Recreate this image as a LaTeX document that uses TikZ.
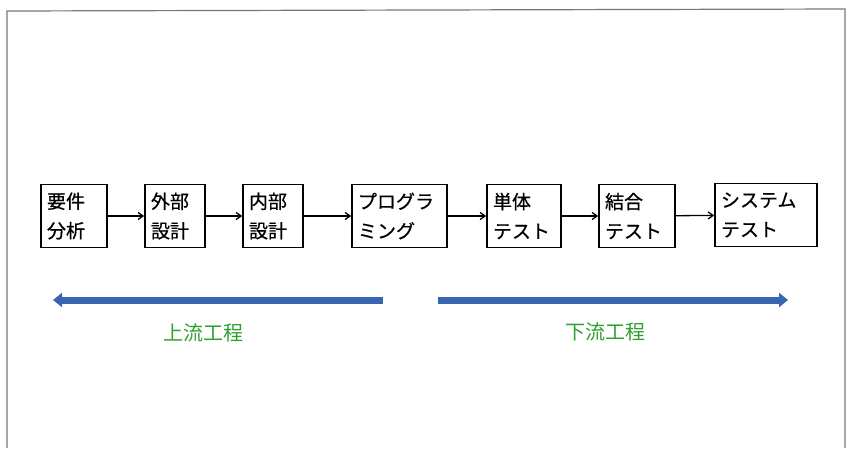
\documentclass[tikz,border=0pt]{standalone}
\usepackage{fontspec}
\newfontfamily\jp[FakeBold=0.6]{Noto Sans CJK JP}
\newfontfamily\jplabel{Noto Sans CJK JP}
\usetikzlibrary{arrows.meta}
\definecolor{flowblue}{RGB}{56,100,176}
\definecolor{flowgreen}{RGB}{46,160,46}
\definecolor{framegray}{RGB}{120,120,120}
\tikzset{
  x=1pt, y=-1pt,
  stage/.style={draw, line width=1.6pt, inner xsep=6pt, inner ysep=0pt, minimum height=63pt,
    align=left, font=\jp\fontsize{19}{29.5}\selectfont},
  link/.style={line width=1.3pt, -{Straight Barb[length=5pt,width=7pt]}},
  phase/.style={line width=7pt, flowblue, -{Triangle[length=9pt,width=14pt]}},
  phaselabel/.style={text=flowgreen, font=\jplabel\fontsize{20}{22}\selectfont}
}
\begin{document}
\begin{tikzpicture}
\useasboundingbox (0,0) rectangle (848,448);
\draw[framegray, line width=1.2pt] (7,448) -- (7,11) -- (845,9) -- (845,448);

\node[stage, text width=54pt] (b1) at (74,216) {要件\\分析};
\node[stage, text width=48pt] (b2) at (175,216) {外部\\設計};
\node[stage, text width=48pt] (b3) at (273,216) {内部\\設計};
\node[stage, text width=83pt] (b4) at (399.5,216) {プログラ\\ミング};
\node[stage, text width=62pt] (b5) at (524,216) {単体\\テスト};
\node[stage, text width=64pt] (b6) at (637,216) {結合\\テスト};
\node[stage, text width=90pt] (b7) at (766,215) {システム\\テスト};

\draw[link] (b1) -- (b2);
\draw[link] (b2) -- (b3);
\draw[link] (b3) -- (b4);
\draw[link] (b4) -- (b5);
\draw[link] (b5) -- (b6);
\draw[link] (b6) -- (b7);

\coordinate (u1) at (383,300);
\coordinate (u2) at (53,300);
\coordinate (d1) at (438,300);
\coordinate (d2) at (788,300);
\draw[phase] (u1) -- (u2);
\draw[phase] (d1) -- (d2);

\node[phaselabel] (up) at (203,333) {上流工程};
\node[phaselabel] (down) at (605,332) {下流工程};
\end{tikzpicture}
\end{document}
